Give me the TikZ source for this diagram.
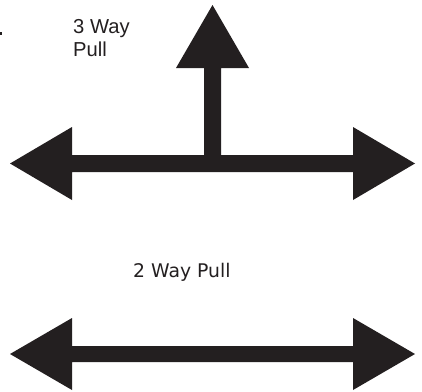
\documentclass[tikz,border=0pt]{standalone}
\usepackage{fontspec}
\setmainfont{Liberation Sans}
\newfontfamily\twowayfont{DejaVu Sans}
\usetikzlibrary{positioning}
\definecolor{pullblack}{HTML}{231F20}

\begin{document}
\begin{tikzpicture}[
    x=1pt, y=-1pt,
    pull/.style={fill=pullblack, draw=none},
    caption/.style={text=pullblack, inner sep=0pt, align=left},
]
    \useasboundingbox (0,0) rectangle (422,391);

    % stray mark at the left edge
    \fill[pullblack] (0,32) rectangle (2,35);

    % 3 way pull
    \node (three_label) [caption, anchor=north west, font=\fontsize{20.2}{23}\selectfont] at (73,19.5) {3 Way\\Pull};
    \path[pull] (10,163.5) -- (72,127) -- (72,155) -- (204,155) -- (204,68) -- (176,68)
        -- (212.5,5) -- (249,68) -- (221,68) -- (221,155) -- (353,155) -- (353,127)
        -- (415,163.5) -- (353,200) -- (353,172) -- (72,172) -- (72,200) -- cycle;

    % 2 way pull
    \node (two_label) [caption, anchor=base west, font=\twowayfont\fontsize{18.8}{22}\selectfont] at (133,277) {2 Way Pull};
    \path[pull] (10,354) -- (72,318) -- (72,346) -- (353,346) -- (353,318) -- (415,354)
        -- (353,390) -- (353,362) -- (72,362) -- (72,390) -- cycle;

\end{tikzpicture}
\end{document}
